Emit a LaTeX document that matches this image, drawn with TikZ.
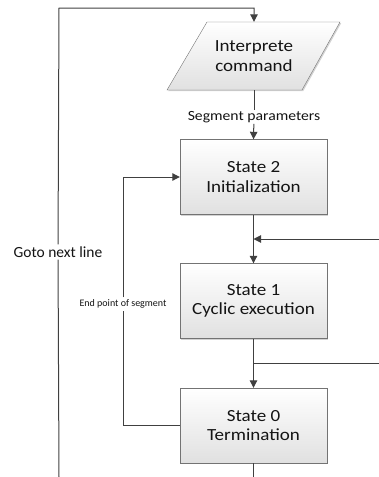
\documentclass[tikz,border=0pt]{standalone}
\usepackage{fontspec}
\setmainfont{Carlito}
\usetikzlibrary{arrows.meta,shadows}

\newcommand{\wtext}[1]{\scalebox{1.12}[1]{#1}}

\tikzset{%
boxfill/.style={draw=black!55, top color=white, bottom color=black!12,
  drop shadow={shadow xshift=1.2pt, shadow yshift=-1.2pt, opacity=0.35}},
boxtext/.style={align=center, text=black!92, font=\fontsize{17}{19.5}\selectfont},
state/.style={boxfill, boxtext, minimum width=147pt, minimum height=75pt},
lbl/.style={fill=white, inner sep=1pt, text=black!92},
wire/.style={draw=black!75, line width=1pt},
flow/.style={wire, -{Triangle[length=7.5pt,width=7.5pt]}},
}

\begin{document}
\begin{tikzpicture}[%
x=1pt, y=-1pt,
]
\useasboundingbox (0,0) rectangle (379,477);
%% command;
\path[boxfill] (207,22) -- (340,22) -- (302,90) -- (167,90) -- cycle;
\node[boxtext, minimum height=68pt] (cmd) at (254,56) {\wtext{Interprete}\\\wtext{command}};
%% states;
\node[state] (s2) at (253.5,177) {\wtext{State 2}\\\wtext{Initialization}};
\node[state] (s1) at (253.5,301) {\wtext{State 1}\\\wtext{Cyclic execution}};
\node[state] (s0) at (253.5,425.5) {\wtext{State 0}\\\wtext{Termination}};
%% labels;
\node[lbl, font=\fontsize{14}{16}\selectfont] (seg) at (254,117) {\wtext{Segment parameters}};
\node[lbl, inner sep=2pt, font=\fontsize{15.5}{17}\selectfont] (goto) at (58,252) {Goto next line};
\node[lbl, inner sep=2pt, font=\fontsize{10}{12}\selectfont] (endpt) at (123,304) {End point of segment};
%% free ends;
\coordinate (tl) at (59,8);
\coordinate (bl) at (59,477);
\coordinate (in1) at (379,239);
\coordinate (j1) at (253.5,239);
\coordinate (j2) at (253.5,363);
\coordinate (out1) at (379,363);
\coordinate (bot) at (253.5,477);
%% connectors;
\draw[wire] (bl) -- (goto);
\draw[flow] (goto) -- (tl) -| (cmd.north);
\draw[wire] (cmd.south) -- (seg);
\draw[flow] (seg) -- (s2.north);
\draw[flow] (s2.south) -- (s1.north);
\draw[flow] (in1) -- (j1);
\draw[flow] (s1.south) -- (s0.north);
\draw[wire] (j2) -- (out1);
\draw[wire] (s0.west) -| (endpt);
\draw[flow] (endpt) |- (s2.west);
\draw[wire] (s0.south) -- (bot);
\end{tikzpicture}
\end{document}
